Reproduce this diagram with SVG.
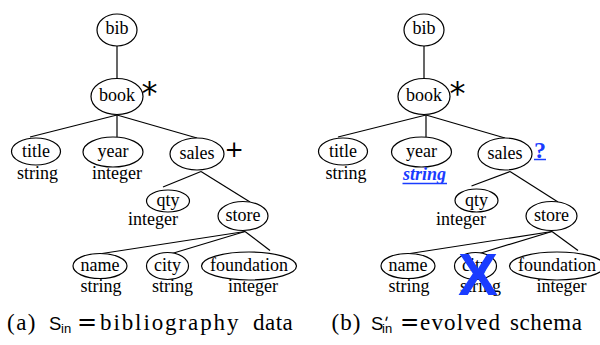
<svg xmlns="http://www.w3.org/2000/svg" width="600" height="345" viewBox="0 0 600 345">
<style>
  .n ellipse { fill: #ffffff; stroke: #000000; stroke-width: 1.2; }
  .lbl { font-family: 'Liberation Serif', 'Times New Roman', serif; font-size: 18px; fill: #000000; text-anchor: middle; }
  .blue { fill: #1a3cff; }
  .uline { stroke: #1a3cff; stroke-width: 1.5; }
  .edges line { stroke: #000000; stroke-width: 1.2; }
  .cap { font-family: 'Liberation Serif', 'Times New Roman', serif; font-size: 23px; fill: #000000; }
  .sf { font-family: 'Liberation Sans', Arial, sans-serif; }
  .mk { font-family: 'DejaVu Sans', sans-serif; fill: #000000; }
</style>

<g id="connectors" class="edges">
  <line x1="117" y1="46" x2="117" y2="78"/>
  <line x1="117" y1="115" x2="30" y2="137"/>
  <line x1="117" y1="115" x2="117" y2="137"/>
  <line x1="117" y1="115" x2="197" y2="138"/>
  <line x1="201" y1="171.5" x2="163" y2="187"/>
  <line x1="201" y1="171.5" x2="250" y2="202"/>
  <line x1="245" y1="231.5" x2="102" y2="253.5"/>
  <line x1="245" y1="231.5" x2="167" y2="255"/>
  <line x1="245" y1="231.5" x2="270" y2="250.5"/>

  <line x1="424" y1="46" x2="424" y2="78"/>
  <line x1="426" y1="115" x2="338" y2="137"/>
  <line x1="426" y1="115" x2="426" y2="137"/>
  <line x1="426" y1="115" x2="505" y2="138"/>
  <line x1="510" y1="171.5" x2="471.5" y2="186"/>
  <line x1="510" y1="171.5" x2="558" y2="202"/>
  <line x1="552" y1="231.5" x2="410" y2="253.5"/>
  <line x1="552" y1="231.5" x2="474.5" y2="255"/>
  <line x1="552" y1="231.5" x2="578" y2="250.5"/>
</g>

<g id="a-bib" class="n"><ellipse cx="117" cy="30" rx="20" ry="16"/><text class="lbl" x="117" y="34">bib</text></g>
<g id="a-book" class="n"><ellipse cx="117" cy="96.5" rx="26" ry="18"/><text class="lbl" x="117" y="101">book</text>
  <text class="mk" x="141.5" y="104" font-size="32">*</text></g>
<g id="a-title" class="n"><ellipse cx="36" cy="151.5" rx="24.5" ry="13.5"/><text class="lbl" x="36" y="157">title</text><text class="lbl" x="37.5" y="179">string</text></g>
<g id="a-year" class="n"><ellipse cx="113" cy="152" rx="30" ry="15"/><text class="lbl" x="113" y="157">year</text><text class="lbl" x="117" y="179">integer</text></g>
<g id="a-sales" class="n"><ellipse cx="197" cy="154" rx="27" ry="16"/><text class="lbl" x="197" y="159">sales</text>
  <text class="mk" x="224.5" y="157" font-size="23">+</text></g>
<g id="a-qty" class="n"><ellipse cx="168" cy="201" rx="21.5" ry="11"/><text class="lbl" x="168" y="206">qty</text><text class="lbl" x="153" y="225">integer</text></g>
<g id="a-store" class="n"><ellipse cx="243" cy="216" rx="25" ry="14.5"/><text class="lbl" x="243" y="221">store</text></g>
<g id="a-name" class="n"><ellipse cx="100" cy="266" rx="27" ry="12.5"/><text class="lbl" x="100" y="271">name</text><text class="lbl" x="101" y="292">string</text></g>
<g id="a-city" class="n"><ellipse cx="167.5" cy="266" rx="21" ry="13.5"/><text class="lbl" x="167.5" y="271">city</text><text class="lbl" x="172.5" y="292">string</text></g>
<g id="a-foundation" class="n"><ellipse cx="249" cy="266" rx="47.5" ry="14"/><text class="lbl" x="249" y="271">foundation</text><text class="lbl" x="253" y="292">integer</text></g>

<g id="b-bib" class="n"><ellipse cx="424" cy="30" rx="20" ry="16"/><text class="lbl" x="424" y="34">bib</text></g>
<g id="b-book" class="n"><ellipse cx="424" cy="96.5" rx="26" ry="18"/><text class="lbl" x="424" y="101">book</text>
  <text class="mk" x="449.5" y="104" font-size="32">*</text></g>
<g id="b-title" class="n"><ellipse cx="343" cy="151.5" rx="24.5" ry="13.5"/><text class="lbl" x="343" y="157">title</text><text class="lbl" x="346" y="179">string</text></g>
<g id="b-year" class="n"><ellipse cx="421.5" cy="152" rx="30" ry="15"/><text class="lbl" x="421.5" y="157">year</text>
  <text class="lbl blue" x="424.5" y="180" font-weight="bold" font-style="italic">string</text>
  <line class="uline" x1="402.5" y1="183.5" x2="447" y2="183.5"/></g>
<g id="b-sales" class="n"><ellipse cx="505" cy="154" rx="27" ry="16"/><text class="lbl" x="505" y="159">sales</text>
  <text class="blue" x="534" y="157.5" font-family="Liberation Serif, serif" font-size="24" font-weight="bold">?</text>
  <line class="uline" x1="534" y1="159.5" x2="546" y2="159.5"/></g>
<g id="b-qty" class="n"><ellipse cx="476.5" cy="200.5" rx="21.5" ry="11.5"/><text class="lbl" x="476.5" y="206">qty</text><text class="lbl" x="461" y="225">integer</text></g>
<g id="b-store" class="n"><ellipse cx="551.5" cy="216" rx="25.5" ry="14.5"/><text class="lbl" x="551.5" y="221">store</text></g>
<g id="b-name" class="n"><ellipse cx="408" cy="266" rx="27" ry="12.5"/><text class="lbl" x="408" y="271">name</text><text class="lbl" x="409" y="292">string</text></g>
<g id="b-city" class="n"><ellipse cx="475.5" cy="266" rx="21" ry="13.5"/><text class="lbl" x="475.5" y="271">city</text><text class="lbl" x="480.5" y="292">string</text></g>
<g id="b-foundation" class="n"><ellipse cx="557" cy="266" rx="47.5" ry="14"/><text class="lbl" x="557" y="271">foundation</text><text class="lbl" x="561.5" y="292">integer</text></g>
<text class="blue" x="478" y="295" text-anchor="middle" font-family="Liberation Sans, Arial, sans-serif" font-size="60" font-weight="bold">X</text>

<text class="cap" y="330"><tspan x="7" letter-spacing="1.5">(a)</tspan> <tspan class="sf" x="49" font-size="18.5">S</tspan><tspan class="sf" x="61" dy="3" font-size="13">in</tspan><tspan class="mk" x="77" dy="-3" font-size="24">=</tspan><tspan x="100" letter-spacing="1.9">bibliography</tspan> <tspan x="253" letter-spacing="0.5">data</tspan></text>
<text class="cap" y="330"><tspan x="331.5" letter-spacing="1">(b)</tspan> <tspan class="sf" x="371" font-size="18.5">S</tspan><tspan class="mk" x="381.5" dy="-3" font-size="16" rotate="18">'</tspan><tspan class="sf" x="382" dy="6" font-size="13">in</tspan><tspan class="mk" x="400" dy="-3" font-size="23">=</tspan><tspan x="420" letter-spacing="1.2">evolved</tspan> <tspan x="510" letter-spacing="0.6">schema</tspan></text>
</svg>
